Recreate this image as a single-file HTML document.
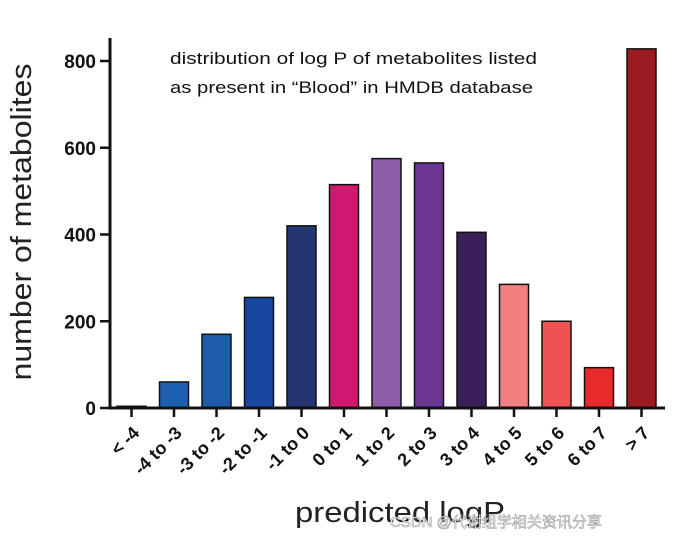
<!DOCTYPE html>
<html><head><meta charset="utf-8"><style>
html,body{margin:0;padding:0;background:#fff;}
svg{display:block;font-family:"Liberation Sans",Arial,sans-serif;}
</style></head><body>
<svg id="chart" width="677" height="540">
<text x="170" y="64" font-size="17" fill="#111" textLength="367" lengthAdjust="spacingAndGlyphs">distribution of log P of metabolites listed</text>
<text x="170" y="93" font-size="17" fill="#111" textLength="363" lengthAdjust="spacingAndGlyphs">as present in “Blood” in HMDB database</text>
<text transform="translate(31,222) rotate(-90)" text-anchor="middle" font-size="29" fill="#222" textLength="317" lengthAdjust="spacingAndGlyphs">number of metabolites</text>
<text x="295" y="522" font-size="29" fill="#222" textLength="210" lengthAdjust="spacingAndGlyphs">predicted logP</text>
<g id="bars"></g><g id="axes"></g>
<text x="390" y="527" font-size="15" fill="#fff" stroke="#999" stroke-width="0.6" font-family="Liberation Sans,'Noto Sans CJK SC',sans-serif">CSDN @代谢组学相关资讯分享</text>
</svg>
<script>
const categories=["< -4","-4 to -3","-3 to -2","-2 to -1","-1 to 0","0 to 1","1 to 2","2 to 3","3 to 4","4 to 5","5 to 6","6 to 7","> 7"];
const counts=[4,60,170,255,420,515,575,565,405,285,200,93,828];
const colors=["#1a4fa0","#1f5fb0","#1c5ca8","#1747a0","#253572","#d0186e","#8c5fa8","#6a3593","#3a1f58","#f28080","#ee5252","#e82a2a","#9b1b20"];
const yTicks=[0,200,400,600,800];
const NS="http://www.w3.org/2000/svg";
const x0=110,x1=665,y0=408,yTop=61;
const yScale=v=>y0-(v/800)*(y0-yTop);
const step=42.5;
const xc=i=>131.5+step*i;
const bw=29;
function mk(tag,attrs,parent){const e=document.createElementNS(NS,tag);for(const k in attrs)e.setAttribute(k,attrs[k]);parent.appendChild(e);return e;}
const bars=document.getElementById('bars'),axes=document.getElementById('axes');
categories.forEach((c,i)=>{
 const r=mk('rect',{x:xc(i)-bw/2,y:yScale(counts[i]),width:bw,height:y0-yScale(counts[i]),fill:colors[i],stroke:"#111","stroke-width":1.5},bars);
 
 
 const t=mk('line',{x1:xc(i),x2:xc(i),y1:y0,y2:y0+9,stroke:"#111","stroke-width":2.5},axes);
 
 
 const l=mk('text',{transform:`translate(${xc(i)+9},${y0+26}) rotate(-45)`,"text-anchor":"end","font-size":18,"font-weight":"bold",fill:"#111"},axes);
 l.textContent=c;
 
 
});
yTicks.forEach(v=>{
 const t=mk('line',{x1:x0-10,x2:x0,y1:yScale(v),y2:yScale(v),stroke:"#111","stroke-width":2.5},axes);
 
 
 const l=mk('text',{x:x0-14,y:yScale(v)+7,"text-anchor":"end","font-size":19,"font-weight":"bold",fill:"#111"},axes);
 l.textContent=v;
 
 
});
const ya=mk('line',{x1:x0,x2:x0,y1:38,y2:y0+1.5,stroke:"#111","stroke-width":3},axes);


const xa=mk('line',{x1:x0-1.5,x2:x1,y1:y0,y2:y0,stroke:"#111","stroke-width":3},axes);


</script>
</body></html>
